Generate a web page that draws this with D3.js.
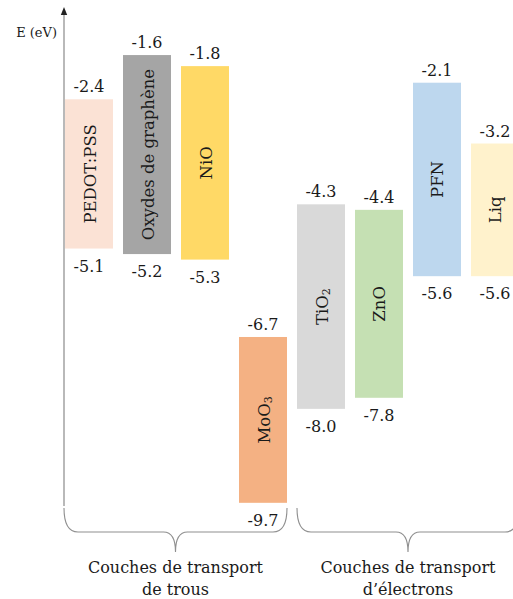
<!DOCTYPE html>
<html><head><meta charset="utf-8">
<script src="https://cdn.jsdelivr.net/npm/d3@7"></script>
<style>html,body{margin:0;padding:0;background:#fff;overflow:hidden}</style>
</head><body>
<script>
const materials = ["PEDOT:PSS","Oxydes de graphène","NiO","MoO3","TiO2","ZnO","PFN","Liq"];
const topValues = [-2.4,-1.6,-1.8,-6.7,-4.3,-4.4,-2.1,-3.2];
const bottomValues = [-5.1,-5.2,-5.3,-9.7,-8.0,-7.8,-5.6,-5.6];
const barColors = ["#FBE2D5","#A5A5A5","#FFD966","#F4B183","#D9D9D9","#C5E0B3","#BDD7EE","#FFF2CC"];
const groupLines = [["Couches de transport","de trous"],["Couches de transport","d\u2019électrons"]];
const groupFirst = [0,4];
const groupLast = [3,7];
const axisLabel = "E (eV)";

const W = 513, H = 599;
const svg = d3.select("body").append("svg").attr("width",W).attr("height",H);

const x = d3.scaleBand().domain(d3.range(materials.length)).range([65,519]).paddingInner(0.1724).paddingOuter(0);
const y = d3.scaleLinear().domain([-1,-10]).range([21.9,519.4]);
const font = "DejaVu Serif";

// axis
const axX = 64;
svg.append("line").attr("x1",axX).attr("x2",axX).attr("y1",12).attr("y2",506)
  .attr("stroke","#8a8a8a").attr("stroke-width",1.2);
svg.append("path").attr("d",`M${axX},7 L${axX-3.2},15 L${axX+3.2},15 Z`).attr("fill","#222");
svg.append("text").attr("x",57).attr("y",37).attr("text-anchor","end")
  .attr("font-family",font).attr("font-size",13).attr("fill","#1a1a1a").text(axisLabel);

// bars
const idx = d3.range(materials.length);
svg.selectAll("rect.bar").data(idx).join("rect").attr("class","bar")
  .attr("x",i=>x(i)).attr("width",x.bandwidth())
  .attr("y",i=>y(topValues[i])).attr("height",i=>y(bottomValues[i])-y(topValues[i]))
  .attr("fill",i=>barColors[i]);

svg.selectAll("text.top").data(idx).join("text").attr("class","top")
  .attr("x",i=>x(i)+x.bandwidth()/2).attr("y",i=>y(topValues[i])-7)
  .attr("text-anchor","middle").attr("font-family",font).attr("font-size",16).attr("fill","#1a1a1a")
  .text(i=>topValues[i].toFixed(1));
svg.selectAll("text.bot").data(idx).join("text").attr("class","bot")
  .attr("x",i=>x(i)+x.bandwidth()/2).attr("y",i=>y(bottomValues[i])+23)
  .attr("text-anchor","middle").attr("font-family",font).attr("font-size",16).attr("fill","#1a1a1a")
  .text(i=>bottomValues[i].toFixed(1));

// rotated names
idx.forEach(i=>{
  const cx = x(i)+x.bandwidth()/2, cy = (y(topValues[i])+y(bottomValues[i]))/2;
  const t = svg.append("text").attr("transform",`translate(${cx+1},${cy}) rotate(-90)`)
    .attr("text-anchor","middle").attr("dominant-baseline","central")
    .attr("font-family",font).attr("font-size",16.5).attr("fill","#1a1a1a");
  const m = materials[i].match(/^(.*?)(\d+)$/);
  if (m && /[A-Z]/.test(m[1]) && m[1].length<=3) {
    t.append("tspan").text(m[1]);
    t.append("tspan").attr("font-size",11).attr("dy",4).text(m[2]);
  } else t.text(materials[i]);
});

// braces
groupLines.forEach((lines,g)=>{
  const x0 = x(groupFirst[g]) - (g===0?1:0);
  const x1 = x(groupLast[g]) + x.bandwidth();
  const xc = (x0+x1)/2;
  const yt = 508, yh = 532, yp = 552, r = 14;
  const p = d3.path();
  p.moveTo(x0,yt);
  p.quadraticCurveTo(x0,yh,x0+r,yh);
  p.lineTo(xc-12,yh);
  p.quadraticCurveTo(xc,yh,xc,yp);
  p.quadraticCurveTo(xc,yh,xc+12,yh);
  p.lineTo(x1-r,yh);
  p.quadraticCurveTo(x1,yh,x1,yt);
  svg.append("path").attr("d",p.toString()).attr("fill","none").attr("stroke","#8f8f8f").attr("stroke-width",1.1);
  lines.forEach((l,k)=>{
    svg.append("text").attr("x",xc).attr("y",573+k*22).attr("text-anchor","middle")
      .attr("font-family",font).attr("font-size",16).attr("fill","#1a1a1a").text(l);
  });
});
</script>
</body></html>
